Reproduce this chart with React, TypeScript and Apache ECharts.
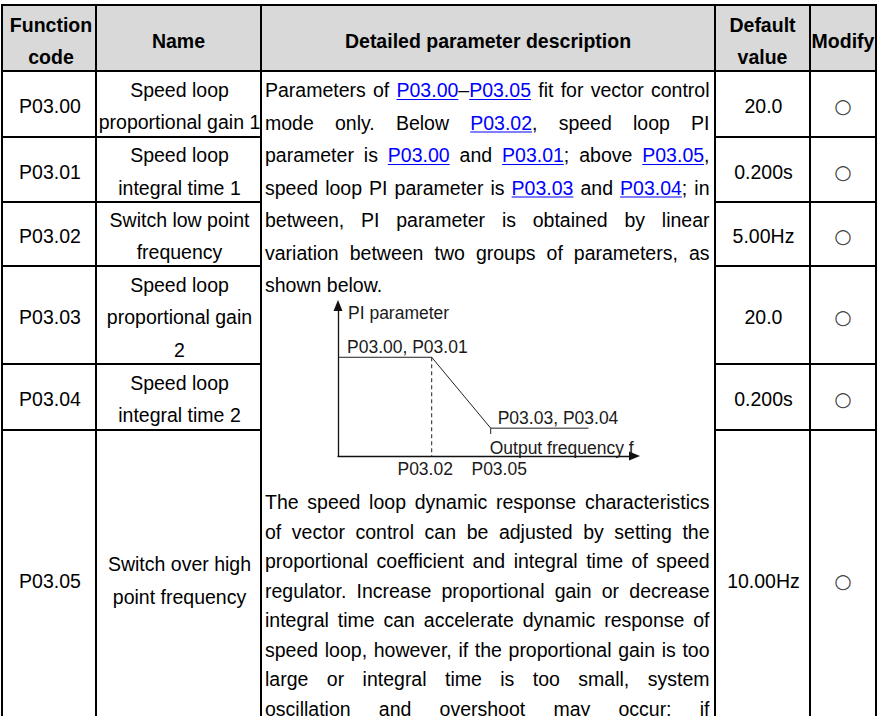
import React, { useEffect, useRef } from "react";
import * as echarts from "echarts";

// ---------- data ----------
const headerCells: string[][] = [["Function", "code"], ["Name"], ["Detailed parameter description"], ["Default", "value"], ["Modify"]];
const codes: string[] = ["P03.00", "P03.01", "P03.02", "P03.03", "P03.04", "P03.05"];
const names: string[][] = [
  ["Speed loop", "proportional gain 1"],
  ["Speed loop", "integral time 1"],
  ["Switch low point", "frequency"],
  ["Speed loop", "proportional gain", "2"],
  ["Speed loop", "integral time 2"],
  ["Switch over high", "point frequency"],
];
const defaultValues: string[] = ["20.0", "0.200s", "5.00Hz", "20.0", "0.200s", "10.00Hz"];
const modifyMarks: string[] = ["○", "○", "○", "○", "○", "○"];

// [..] marks a link
const descTop: string[] = [
  "Parameters of [P03.00]–[P03.05] fit for vector control",
  "mode only. Below [P03.02], speed loop PI",
  "parameter is [P03.00] and [P03.01]; above [P03.05],",
  "speed loop PI parameter is [P03.03] and [P03.04]; in",
  "between, PI parameter is obtained by linear",
  "variation between two groups of parameters, as",
  "shown below.",
];
const descBottom: string[] = [
  "The speed loop dynamic response characteristics",
  "of vector control can be adjusted by setting the",
  "proportional coefficient and integral time of speed",
  "regulator. Increase proportional gain or decrease",
  "integral time can accelerate dynamic response of",
  "speed loop, however, if the proportional gain is too",
  "large or integral time is too small, system",
  "oscillation and overshoot may occur; if",
];

// PI diagram (arbitrary units)
const freqPoints: number[] = [0, 3.16, 5.15, 8.45];
const piValues: number[] = [6.56, 6.56, 1.85, 1.85];
const lowSwitchFreq = 3.16;
const highSwitchFreq = 5.15;
const highTickEnd = 1.46;
const yAxisTitle = "PI parameter";
const xAxisTitle = "Output frequency f";
const highGroupLabel = "P03.00, P03.01";
const lowGroupLabel = "P03.03, P03.04";
const lowSwitchLabel = "P03.02";
const highSwitchLabel = "P03.05";

// ---------- layout ----------
const COLS = [2, 96, 261, 715, 810, 876];
const TOP = 5;
const HEADER_BOTTOM = 71;
const ROW_BOTTOMS = [137, 202, 266, 364, 430, 750];
const LAST_ROW_CENTER = 580.5;
const PAGE_H = 716;
const FONT = "'Liberation Sans', Arial, Helvetica, sans-serif";
const FS = 19.5;
const LINE = 32.5;
const TEXT_L = 265;
const TEXT_R = 709.5;
const TOP_PARA_Y = 90;
const BOTTOM_PARA_Y = 502;
const BOTTOM_PARA_LINE = 29.5;
const LINK = "#0000ff";
const INK = "#000000";

export default function App() {
  const ref = useRef<HTMLDivElement>(null);
  useEffect(() => {
    document.body.style.margin = "0";
    const chart = echarts.init(ref.current!, null, { renderer: "svg" });
    const axisCommon = {
      type: "value",
      min: 0,
      max: 10,
      axisTick: { show: false },
      axisLabel: { show: false },
      splitLine: { show: false },
      axisLine: {
        show: true,
        symbol: ["none", "triangle"],
        symbolSize: [9, 11],
        lineStyle: { color: "#111", width: 1.3 },
      },
    };
    chart.setOption({
      animation: false,
      backgroundColor: "#ffffff",
      grid: { left: 338, top: 305.5, width: 296.5, height: 150.5, containLabel: false },
      xAxis: { ...axisCommon },
      yAxis: { ...axisCommon },
      series: [
        {
          type: "line",
          silent: true,
          symbol: "none",
          data: freqPoints.map((f, i) => [f, piValues[i]]),
          lineStyle: { color: "#222", width: 1 },
        },
        {
          type: "line",
          silent: true,
          symbol: "none",
          data: [[lowSwitchFreq, piValues[1]], [lowSwitchFreq, 0]],
          lineStyle: { color: "#222", width: 1, type: [4, 3] },
        },
        {
          type: "line",
          silent: true,
          symbol: "none",
          data: [[highSwitchFreq, piValues[2]], [highSwitchFreq, highTickEnd]],
          lineStyle: { color: "#222", width: 1 },
        },
      ],
    });

    const canvas = document.createElement("canvas");
    const ctx = canvas.getContext("2d")!;
    const measure = (t: string, bold = false, size = FS) => {
      ctx.font = `${bold ? "bold " : ""}${size}px ${FONT}`;
      return ctx.measureText(t).width;
    };

    const els: any[] = [];
    const text = (t: string, x: number, y: number, opts: any = {}) => {
      els.push({
        type: "text",
        z: 10,
        silent: true,
        style: {
          text: t,
          x,
          y,
          fill: opts.fill || INK,
          fontSize: opts.size || FS,
          fontFamily: opts.family || FONT,
          fontWeight: opts.bold ? "bold" : "normal",
          align: opts.align || "center",
          textAlign: opts.align || "center",
          verticalAlign: "middle",
          textVerticalAlign: "middle",
        },
      });
    };
    const line = (x1: number, y1: number, x2: number, y2: number, w = 2, color = "#000") => {
      els.push({
        type: "line",
        z: 5,
        silent: true,
        shape: { x1, y1, x2, y2 },
        style: { stroke: color, lineWidth: w },
      });
    };

    // header background
    els.push({
      type: "rect",
      z: 1,
      silent: true,
      shape: { x: COLS[0], y: TOP, width: COLS[5] - COLS[0], height: HEADER_BOTTOM - TOP },
      style: { fill: "#d9d9d9" },
    });

    // grid lines
    line(COLS[0] - 1, TOP, COLS[5] + 1, TOP);
    line(COLS[0] - 1, HEADER_BOTTOM, COLS[5] + 1, HEADER_BOTTOM);
    ROW_BOTTOMS.slice(0, 5).forEach((yb) => {
      line(COLS[0], yb, COLS[2], yb);
      line(COLS[3], yb, COLS[5], yb);
    });
    COLS.forEach((x) => line(x, TOP - 1, x, PAGE_H + 40));

    // header texts
    headerCells.forEach((lines, c) => {
      const cx = (COLS[c] + COLS[c + 1]) / 2 + (c === 0 ? 2 : 0);
      const cy = (TOP + HEADER_BOTTOM) / 2 + 3;
      lines.forEach((t, i) => {
        text(t, cx, cy + (i - (lines.length - 1) / 2) * 32, { bold: true });
      });
    });

    // rows
    let prev = HEADER_BOTTOM;
    codes.forEach((code, r) => {
      const yb = ROW_BOTTOMS[r];
      const cy = r === 5 ? LAST_ROW_CENTER : (prev + yb) / 2 + 2;
      text(code, (COLS[0] + COLS[1]) / 2 + 1, cy);
      const nl = names[r];
      nl.forEach((t, i) => text(t, (COLS[1] + COLS[2]) / 2 + 1, cy + (i - (nl.length - 1) / 2) * LINE));
      text(defaultValues[r], (COLS[3] + COLS[4]) / 2 + 1, cy);
      text(modifyMarks[r], (COLS[4] + COLS[5]) / 2, cy, { family: "'DejaVu Sans', sans-serif", size: 20, fill: "#444" });
      prev = yb;
    });

    // justified paragraph lines
    const para = (src: string, y: number, justify: boolean) => {
      const words = src.split(" ").map((w) => {
        const segs: { t: string; link: boolean }[] = [];
        const re = /\[([^\]]+)\]|[^\[]+/g;
        let m: RegExpExecArray | null;
        while ((m = re.exec(w))) {
          if (m[1] !== undefined) segs.push({ t: m[1], link: true });
          else segs.push({ t: m[0], link: false });
        }
        const width = segs.reduce((s, g) => s + measure(g.t), 0);
        return { segs, width };
      });
      const total = words.reduce((s, w) => s + w.width, 0);
      const gap = justify && words.length > 1 ? (TEXT_R - TEXT_L - total) / (words.length - 1) : measure(" ");
      let x = TEXT_L;
      words.forEach((w) => {
        w.segs.forEach((g) => {
          const gw = measure(g.t);
          text(g.t, x, y, { align: "left", fill: g.link ? LINK : INK });
          if (g.link) line(x, y + 9.5, x + gw, y + 9.5, 1.2, LINK);
          x += gw;
        });
        x += gap;
      });
    };
    descTop.forEach((l, i) => para(l, TOP_PARA_Y + i * LINE, i < descTop.length - 1));
    descBottom.forEach((l, i) => para(l, BOTTOM_PARA_Y + i * BOTTOM_PARA_LINE, true));

    // diagram labels anchored on the data coordinates
    const px = (x: number, y: number) => chart.convertToPixel({ gridIndex: 0 }, [x, y]) as number[];
    const DFS = 17.5;
    const dOpt = (align: string) => ({ size: DFS, fill: "#1a1a1a", align });
    const yTop = px(0, 10);
    text(yAxisTitle, yTop[0] + 10, yTop[1] + 7, dOpt("left"));
    const hi = px(0, piValues[0]);
    text(highGroupLabel, hi[0] + 9, hi[1] - 10, dOpt("left"));
    const lo = px(highSwitchFreq, piValues[2]);
    text(lowGroupLabel, lo[0] + 7, lo[1] - 10, dOpt("left"));
    const hs0 = px(highSwitchFreq, 0);
    text(xAxisTitle, hs0[0] - 1, hs0[1] - 8, dOpt("left"));
    const ls0 = px(lowSwitchFreq, 0);
    text(lowSwitchLabel, ls0[0] - 6.5, ls0[1] + 12.5, dOpt("center"));
    text(highSwitchLabel, hs0[0] + 8.5, hs0[1] + 12.5, dOpt("center"));

    chart.setOption({ graphic: { elements: els } });
    return () => chart.dispose();
  }, []);
  return (
    <div
      ref={ref}
      style={{ position: "fixed", left: 0, top: 0, width: 878, height: 716, background: "#fff" }}
    />
  );
}
